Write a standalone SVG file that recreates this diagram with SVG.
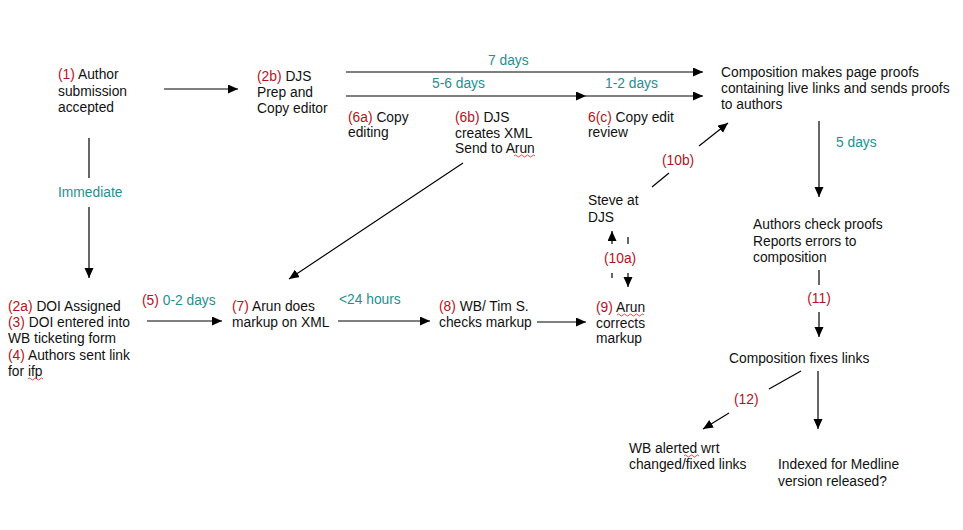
<svg xmlns="http://www.w3.org/2000/svg" width="963" height="530" viewBox="0 0 963 530">
<defs>
<style>
text{font-family:"Liberation Sans",Arial,sans-serif;font-size:13.8px;fill:#111}
.r{fill:#b5121b}
.t{fill:#1f8f8f}
.ln{stroke:#000;stroke-width:1.2;fill:none}
.sq{stroke:#d22;stroke-width:0.8;fill:none}
</style>
<marker id="ah" markerUnits="userSpaceOnUse" markerWidth="11" markerHeight="10" refX="10" refY="4.5" orient="auto">
<path d="M0,0 L10,4.5 L0,9 z" fill="#000"/>
</marker>
</defs>
<rect width="963" height="530" fill="#fff"/>

<g id="connectors">
<line class="ln" x1="164" y1="89" x2="238" y2="89" marker-end="url(#ah)"/>
<line class="ln" x1="346" y1="72" x2="703" y2="72" marker-end="url(#ah)"/>
<line class="ln" x1="346" y1="96" x2="586" y2="96" marker-end="url(#ah)"/>
<line class="ln" x1="586" y1="96" x2="703" y2="96" marker-end="url(#ah)"/>
<line class="ln" x1="89" y1="138" x2="89" y2="178"/>
<line class="ln" x1="89" y1="207" x2="89" y2="278" marker-end="url(#ah)"/>
<line class="ln" x1="463" y1="163" x2="289" y2="279" marker-end="url(#ah)"/>
<line class="ln" x1="147" y1="321" x2="222" y2="321" marker-end="url(#ah)"/>
<line class="ln" x1="338" y1="321" x2="430" y2="321" marker-end="url(#ah)"/>
<line class="ln" x1="537" y1="322" x2="586" y2="322" marker-end="url(#ah)"/>
<line class="ln" x1="612" y1="244" x2="612" y2="231" marker-end="url(#ah)"/>
<line class="ln" x1="628" y1="237" x2="628" y2="244"/>
<line class="ln" x1="612" y1="273" x2="612" y2="278"/>
<line class="ln" x1="628" y1="273" x2="628" y2="287" marker-end="url(#ah)"/>
<line class="ln" x1="652" y1="187" x2="669" y2="173"/>
<line class="ln" x1="699" y1="146" x2="728" y2="123" marker-end="url(#ah)"/>
<line class="ln" x1="819" y1="121" x2="819" y2="197" marker-end="url(#ah)"/>
<line class="ln" x1="819" y1="270" x2="819" y2="285"/>
<line class="ln" x1="819" y1="312" x2="819" y2="337" marker-end="url(#ah)"/>
<line class="ln" x1="801" y1="371" x2="769" y2="389"/>
<line class="ln" x1="729" y1="413" x2="703" y2="429" marker-end="url(#ah)"/>
<line class="ln" x1="818" y1="371" x2="818" y2="429" marker-end="url(#ah)"/>
</g>

<g id="labels">
<text class="t" x="488" y="65">7 days</text>
<text class="t" x="432" y="88">5-6 days</text>
<text class="t" x="605" y="88">1-2 days</text>
<text class="t" x="58" y="197">Immediate</text>
<text x="142" y="305"><tspan class="r">(5)</tspan> <tspan class="t">0-2 days</tspan></text>
<text class="t" x="339" y="304">&lt;24 hours</text>
<text class="r" x="662" y="165">(10b)</text>
<text class="r" x="604" y="263">(10a)</text>
<text class="t" x="836" y="147">5 days</text>
<text class="r" x="819" y="303" text-anchor="middle">(11)</text>
<text class="r" x="734" y="404">(12)</text>
</g>

<g id="n1"><text x="58" y="79"><tspan class="r">(1)</tspan> Author</text><text x="58" y="96">submission</text><text x="58" y="112">accepted</text></g>
<g id="n2b"><text x="257" y="81"><tspan class="r">(2b)</tspan> DJS</text><text x="257" y="97">Prep and</text><text x="257" y="113">Copy editor</text></g>
<g id="n6a"><text x="348" y="122"><tspan class="r">(6a)</tspan> Copy</text><text x="348" y="137">editing</text></g>
<g id="n6b"><text x="455" y="122"><tspan class="r">(6b)</tspan> DJS</text><text x="455" y="138">creates XML</text><text x="455" y="153">Send to Arun</text>
<path class="sq" d="M514,156 q1.5,-2 3,0 t3,0 t3,0 t3,0 t3,0 t3,0 t3,0"/></g>
<g id="n6c"><text x="588" y="122"><tspan class="r">6(c)</tspan> Copy edit</text><text x="588" y="137">review</text></g>
<g id="ncomp"><text x="721" y="77">Composition makes page proofs</text><text x="721" y="93">containing live links and sends proofs</text><text x="721" y="109">to authors</text></g>
<g id="nsteve"><text x="588" y="205">Steve at</text><text x="588" y="222">DJS</text></g>
<g id="nauthors"><text x="753" y="229">Authors check proofs</text><text x="753" y="246">Reports errors to</text><text x="753" y="262">composition</text></g>
<g id="n2a"><text x="8" y="311"><tspan class="r">(2a)</tspan> DOI Assigned</text><text x="8" y="327"><tspan class="r">(3)</tspan> DOI entered into</text><text x="8" y="343">WB ticketing form</text><text x="8" y="360"><tspan class="r">(4)</tspan> Authors sent link</text><text x="8" y="376">for ifp</text>
<path class="sq" d="M28,379 q1.5,-2 3,0 t3,0 t3,0 t3,0 t3,0"/></g>
<g id="n7"><text x="232" y="311"><tspan class="r">(7)</tspan> Arun does</text><text x="232" y="327">markup on XML</text></g>
<g id="n8"><text x="439" y="311"><tspan class="r">(8)</tspan> WB/ Tim S.</text><text x="439" y="327">checks markup</text></g>
<g id="n9"><text x="596" y="312"><tspan class="r">(9)</tspan> Arun</text><text x="596" y="328">corrects</text><text x="596" y="343">markup</text>
<path class="sq" d="M617,315 q1.5,-2 3,0 t3,0 t3,0 t3,0 t3,0 t3,0 t3,0 t3,0 t3,0"/></g>
<g id="nfix"><text x="729" y="363">Composition fixes links</text></g>
<g id="nwb"><text x="629" y="453">WB alerted wrt</text><text x="629" y="469">changed/fixed links</text>
<path class="sq" d="M684,456 q1.5,-2 3,0 t3,0 t3,0 t3,0 t3,0"/></g>
<g id="nmed"><text x="778" y="469">Indexed for Medline</text><text x="778" y="486">version released?</text></g>
</svg>
